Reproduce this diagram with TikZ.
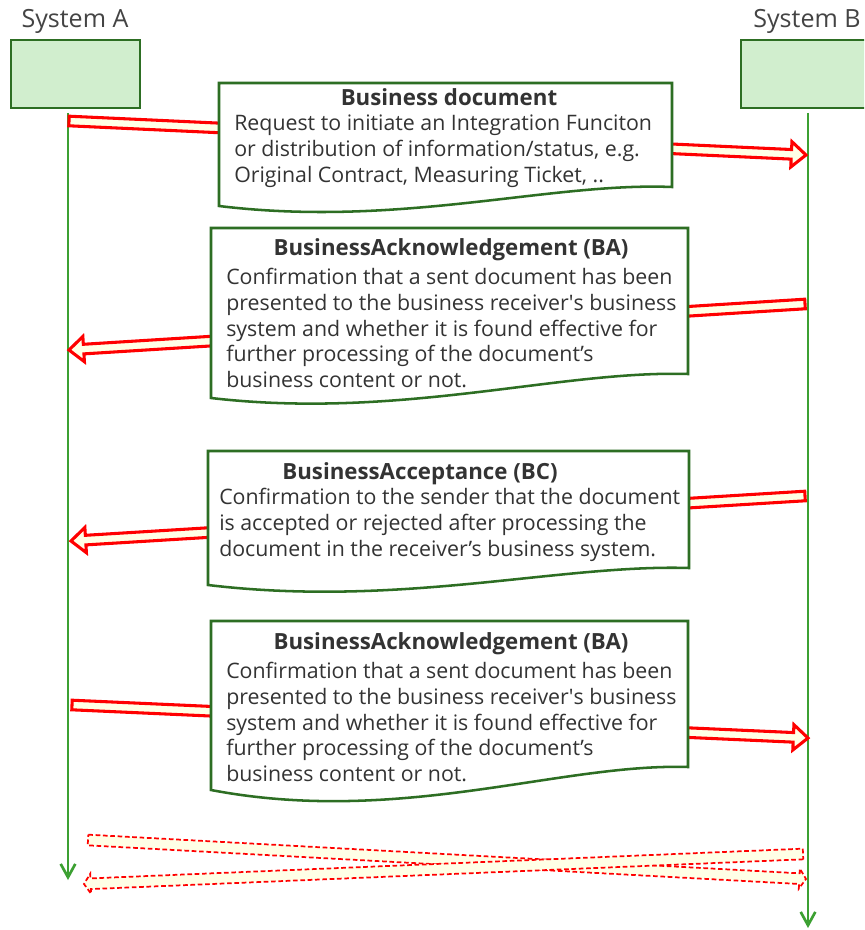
\documentclass[tikz,border=0pt]{standalone}
\usepackage{fontspec}
\setmainfont{Open Sans}
\usetikzlibrary{calc,arrows.meta}
\definecolor{boxgreen}{RGB}{45,110,35}
\definecolor{lifegreen}{RGB}{60,160,50}
\definecolor{sysfill}{RGB}{209,238,206}
\definecolor{arrred}{RGB}{255,0,0}
\definecolor{arrfill}{RGB}{255,255,230}
\definecolor{txt}{RGB}{51,51,51}
\definecolor{systxt}{RGB}{68,68,68}
\newcommand{\fatarrow}[6]{%
  \coordinate (neck) at ($(#3)!#6!(#2)$);
  \draw[#1] ($(#2)!#4!90:(#3)$) -- ($(neck)!#4!90:(#3)$) -- ($(neck)!#5!90:(#3)$) -- (#3)
    -- ($(neck)!#5!-90:(#3)$) -- ($(neck)!#4!-90:(#3)$) -- ($(#2)!#4!-90:(#3)$) -- cycle;
}
\begin{document}
\begin{tikzpicture}[x=0.75pt,y=-0.75pt,
  sysbox/.style={draw=boxgreen,fill=sysfill,line width=2.1pt},
  syslabel/.style={text=systxt,font=\fontsize{18.8}{22}\selectfont,inner sep=0pt,anchor=base},
  lifeline/.style={draw=lifegreen,line width=2pt,-{Straight Barb[length=10pt,width=11pt,line width=2pt]}},
  docbox/.style={draw=boxgreen,fill=white,line width=1.9pt,line join=miter},
  solidarrow/.style={draw=arrred,fill=arrfill,line width=2.3pt,line join=miter,miter limit=10},
  dasharrow/.style={draw=arrred,fill=arrfill,line width=1.3pt,dash pattern=on 3.5pt off 2pt},
  doctitle/.style={text=txt,font=\fontsize{16.7}{19.3}\selectfont\bfseries,inner sep=0pt,anchor=base},
  docbody/.style={text=txt,font=\fontsize{16}{19.3}\selectfont,inner sep=0pt,align=left,anchor=north west}]
\clip (0,0) rectangle (864,930);
\fill[white] (0,0) rectangle (864,930);
% systems
\node[syslabel] (labA) at (75,28) {System A};
\node[syslabel] (labB) at (807,28) {System B};
\draw[sysbox] (11,40) rectangle (140,108);
\draw[sysbox] (741,40) rectangle (880,108);
\coordinate (A0) at (68,113);
\coordinate (Aend) at (68,880);
\coordinate (B0) at (808,113);
\coordinate (Bend) at (808,928);
\draw[lifeline] (A0) -- (Aend);
\draw[lifeline] (B0) -- (Bend);
% arrow end points
\coordinate (a1s) at (69,121);   \coordinate (a1e) at (806,155);
\coordinate (a2s) at (805,304);  \coordinate (a2e) at (69,350);
\coordinate (a3s) at (805,496);  \coordinate (a3e) at (71,541);
\coordinate (a4s) at (72,705);   \coordinate (a4e) at (808,738);
\coordinate (d1s) at (88,840);   \coordinate (d1e) at (806,879);
\coordinate (d2s) at (803,854);  \coordinate (d2e) at (84,884);
\fatarrow{solidarrow}{a1s}{a1e}{3.6pt}{9.5pt}{11pt}
\fatarrow{solidarrow}{a2s}{a2e}{3.6pt}{9.5pt}{11pt}
\fatarrow{solidarrow}{a3s}{a3e}{3.6pt}{9.5pt}{11pt}
\fatarrow{solidarrow}{a4s}{a4e}{3.6pt}{9.5pt}{11pt}
\fatarrow{dasharrow}{d1s}{d1e}{4pt}{7.5pt}{5pt}
\fatarrow{dasharrow}{d2s}{d2e}{4pt}{7.5pt}{5pt}
% document boxes
\draw[docbox] (219,83) -- (672,83) -- (672,187) .. controls (550,182) and (400,228) .. (219,206) -- cycle;
\draw[docbox] (211,228) -- (688,228) -- (688,374) .. controls (560,370) and (400,420) .. (211,398) -- cycle;
\draw[docbox] (208,451) -- (689,451) -- (689,568) .. controls (560,564) and (400,608) .. (208,585) -- cycle;
\draw[docbox] (211,621) -- (688,621) -- (688,767) .. controls (560,763) and (400,826) .. (211,790) -- cycle;
% texts
\node[doctitle] (t1) at (449,106) {Business document};
\node[docbody] (b1) at (234,115) {Request to initiate an Integration Funciton\\or distribution of information/status, e.g.\\Original Contract, Measuring Ticket, ..};
\node[doctitle] (t2) at (451,256) {BusinessAcknowledgement (BA)};
\node[docbody] (b2) at (226,268) {Confirmation that a sent document has been\\presented to the business receiver\textquotesingle s business\\system and whether it is found effective for\\further processing of the document’s\\business content or not.};
\node[doctitle] (t3) at (420,479) {BusinessAcceptance (BC)};
\node[docbody] (b3) at (219,488) {Confirmation to the sender that the document\\is accepted or rejected after processing the\\document in the receiver’s business system.};
\node[doctitle] (t4) at (451,649) {BusinessAcknowledgement (BA)};
\node[docbody] (b4) at (226,662) {Confirmation that a sent document has been\\presented to the business receiver\textquotesingle s business\\system and whether it is found effective for\\further processing of the document’s\\business content or not.};
\end{tikzpicture}
\end{document}
